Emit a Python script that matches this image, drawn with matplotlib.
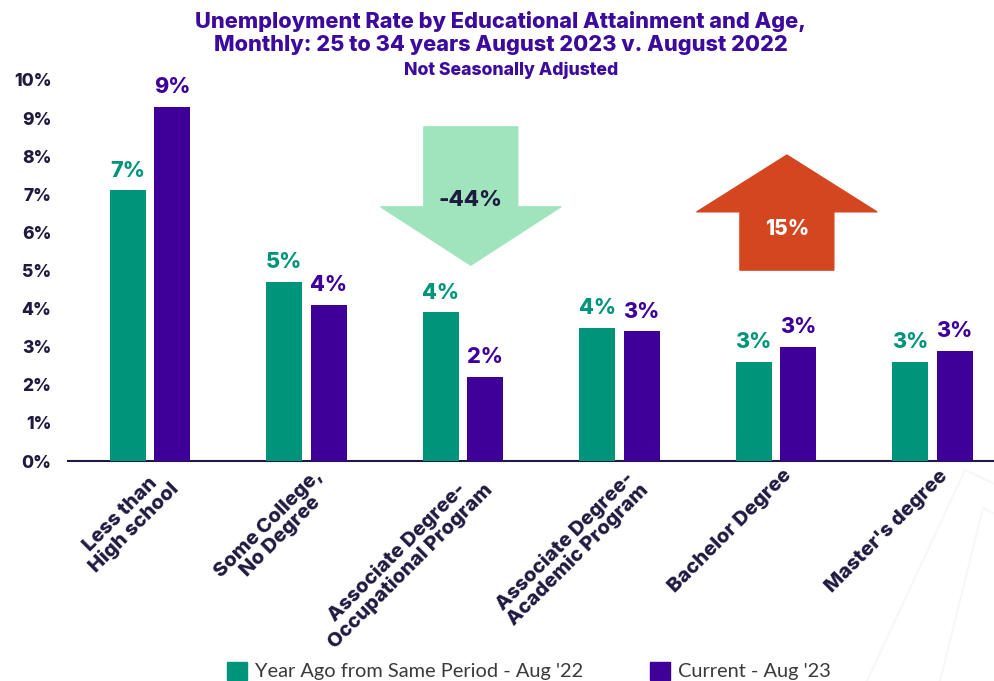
import matplotlib
matplotlib.use("Agg")
import matplotlib.pyplot as plt
from matplotlib.patches import Polygon
from matplotlib.lines import Line2D
import numpy as np

categories = ["Less than\nHigh school", "Some College,\nNo Degree", "Associate Degree-\nOccupational Program",
              "Associate Degree-\nAcademic Program", "Bachelor Degree", "Master's degree"]
year_ago = [7.1, 4.7, 3.9, 3.5, 2.6, 2.6]
current = [9.3, 4.1, 2.2, 3.4, 3.0, 2.9]
yticks = list(range(0, 11))
series_names = ["Year Ago from Same Period - Aug '22", "Current - Aug '23"]

GREEN = "#00957a"
PURPLE = "#3f0099"
NAVY = "#1f1a40"
TITLE_C = "#3d0a9e"
BOLD = ['Inter', 'DejaVu Sans']

plt.rcParams['font.family'] = ['Lato', 'DejaVu Sans']

fig = plt.figure(figsize=(9.95, 6.81), dpi=100)
ax = fig.add_axes([68/995, 220/681, 927/995, 381/681])

x = np.arange(len(categories))
w = 0.23
off = 0.142
b1 = ax.bar(x - off, year_ago, w, color=GREEN, zorder=3)
b2 = ax.bar(x + off, current, w, color=PURPLE, zorder=3)

for rect, v in zip(b1, year_ago):
    ax.annotate(f"{v:.0f}%", (rect.get_x() + rect.get_width()/2, v), xytext=(0, 7),
                textcoords="offset points", ha="center", va="bottom", family=BOLD,
                color=GREEN, fontsize=15.5, fontweight="heavy")
for rect, v in zip(b2, current):
    ax.annotate(f"{v:.0f}%", (rect.get_x() + rect.get_width()/2, v), xytext=(0, 7),
                textcoords="offset points", ha="center", va="bottom", family=BOLD,
                color=PURPLE, fontsize=15.5, fontweight="heavy")

ax.set_ylim(0, 10)
ax.set_xlim(-0.524, 5.40)
ax.set_yticks(yticks)
ax.set_yticklabels([f"{t}%" for t in yticks], fontsize=12.5, fontweight="heavy", color=NAVY,
                   family=BOLD)
ax.tick_params(axis="y", length=0, pad=12)
ax.tick_params(axis="x", length=0, pad=4)
ax.set_xticks(x + 0.04)
ax.set_xticklabels(categories, rotation=45, ha="right", va="top", rotation_mode="anchor",
                   multialignment="center", fontsize=14.5, fontweight="heavy", color=NAVY,
                   linespacing=1.0, family=BOLD)
for s in ["top", "right", "left"]:
    ax.spines[s].set_visible(False)
ax.spines["bottom"].set_color(NAVY)
ax.spines["bottom"].set_linewidth(1.5)

def down_arrow(cx, top, base, tip, sw, hw, color):
    pts = [(cx - sw, top), (cx + sw, top), (cx + sw, base), (cx + hw, base),
           (cx, tip), (cx - hw, base), (cx - sw, base)]
    ax.add_patch(Polygon(pts, closed=True, facecolor=color, edgecolor=color,
                         joinstyle="round", linewidth=1, zorder=2))

def up_arrow(cx, bottom, base, tip, sw, hw, color):
    pts = [(cx - sw, bottom), (cx + sw, bottom), (cx + sw, base), (cx + hw, base),
           (cx, tip), (cx - hw, base), (cx - sw, base)]
    ax.add_patch(Polygon(pts, closed=True, facecolor=color, edgecolor=color,
                         joinstyle="round", linewidth=1, zorder=2))

chg_occ = (current[2] - year_ago[2]) / year_ago[2] * 100
chg_bach = (current[4] - year_ago[4]) / year_ago[4] * 100

down_arrow(2 + 0.05, 8.77, 6.67, 5.14, 0.30, 0.575, "#a0e4bd")
ax.text(2 + 0.05, 6.85, f"{chg_occ:.0f}%", ha="center", va="center", color=NAVY,
        fontsize=16, fontweight="heavy", zorder=4, family=BOLD)
up_arrow(4 + 0.07, 5.01, 6.54, 8.03, 0.30, 0.575, "#d4461f")
ax.text(4 + 0.07, 6.09, f"{chg_bach:.0f}%", ha="center", va="center", color="white",
        fontsize=15, fontweight="heavy", zorder=4, family=BOLD)

fig.text(0.503, 1 - 22/681, "Unemployment Rate by Educational Attainment and Age,", ha="center",
         va="center", fontsize=15.7, fontweight="heavy", color=TITLE_C, family=BOLD)
fig.text(0.503, 1 - 45/681, "Monthly: 25 to 34 years August 2023 v. August 2022", ha="center",
         va="center", fontsize=15.7, fontweight="heavy", color=TITLE_C, family=BOLD)
fig.text(0.514, 1 - 70/681, "Not Seasonally Adjusted", ha="center", va="center",
         fontsize=12.7, fontweight="heavy", color=TITLE_C, family=BOLD)

fig.add_artist(Line2D([867/995, 965/995, 995/995], [1 - 681/681, 1 - 470/681, 1 - 484/681],
                      color="#f7f7fa", lw=1.5, zorder=0))
fig.add_artist(Line2D([940/995, 983/995, 995/995], [1 - 681/681, 1 - 508/681, 1 - 514/681],
                      color="#f7f7fa", lw=1.5, zorder=0))

handles = [plt.Rectangle((0, 0), 1, 1, color=GREEN), plt.Rectangle((0, 0), 1, 1, color=PURPLE)]
fig.legend(handles, series_names, loc="center", bbox_to_anchor=(529/995, 1 - 671/681),
           ncol=2, frameon=False, fontsize=14.4, handlelength=1.0, handleheight=1.0,
           handletextpad=0.4, columnspacing=3.3, labelcolor="#3a3a3a")

fig.savefig("out.png", dpi=100)
